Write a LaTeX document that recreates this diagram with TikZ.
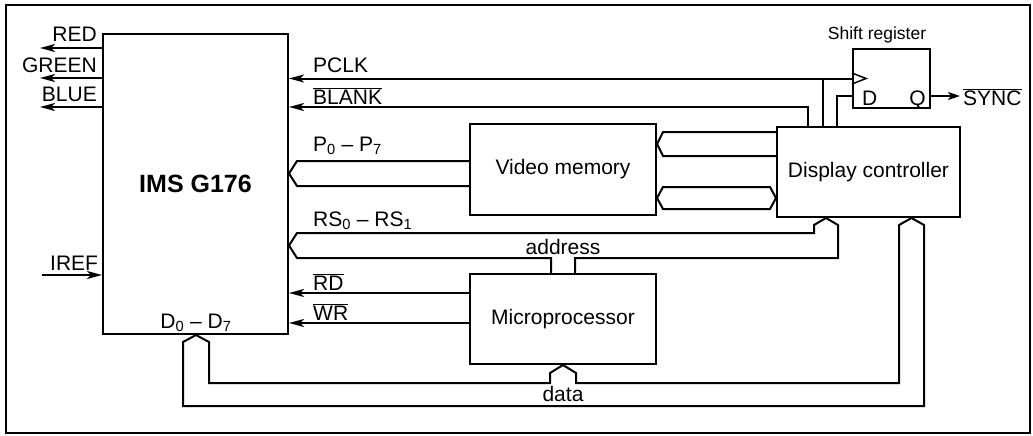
\documentclass[tikz,border=0pt]{standalone}
\usepackage{fontspec}
\setmainfont{Liberation Sans}
\usetikzlibrary{arrows.meta}
\newcommand\ovl[1]{$\overline{\mbox{#1}}$}
\begin{document}
\begin{tikzpicture}[x=1pt,y=-1pt,
  txt/.style={font=\fontsize{21}{25}\selectfont},
  box/.style={draw,line width=2pt,inner sep=0pt,txt},
  wire/.style={line width=2pt},
  arr/.style={wire,-{Stealth[length=15pt,width=8pt,inset=4pt]}},
  lbl/.style={inner sep=0pt,txt},
  bus/.style={wire,line join=miter}]
\useasboundingbox (0,0) rectangle (1033,436);
\draw[line width=1.3pt] (6,5) rectangle (1030,433);
% blocks
\node[box,minimum width=185pt,minimum height=300pt,font=\bfseries\fontsize{25}{30}\selectfont] (ims) at (195.5,184) {IMS G176};
\node[box,minimum width=186pt,minimum height=91pt] (vm) at (563,169.5) {Video memory};
\node[box,minimum width=183pt,minimum height=90pt] (dc) at (868.5,172) {Display controller};
\node[box,minimum width=186pt,minimum height=90pt] (mp) at (563,319) {Microprocessor};
\node[box,minimum width=77pt,minimum height=59pt] (sr) at (891.5,78.5) {};
\node[lbl,font=\fontsize{17.5}{20}\selectfont,anchor=base] (srl) at (877,40) {Shift register};
\node[lbl,anchor=base west] (dl) at (862,105) {D};
\node[lbl,anchor=base east] (ql) at (926,105) {Q};
\draw[line width=1.5pt] (sr.west |- 0,73) -- (866,78.5) -- (sr.west |- 0,84);
% labels
\node[lbl,anchor=base east] (red) at (97,42) {RED};
\node[lbl,anchor=base east] (green) at (97,72) {GREEN};
\node[lbl,anchor=base east] (blue) at (97,101) {BLUE};
\node[lbl,anchor=base west] (iref) at (50,270) {IREF};
\node[lbl,anchor=base west] (pclk) at (313,72) {PCLK};
\node[lbl,anchor=base west] (blank) at (313,104) {\ovl{BLANK}};
\node[lbl,anchor=base west] (pbus) at (313,151) {P\textsubscript{0} – P\textsubscript{7}};
\node[lbl,anchor=base west] (rsbus) at (313,226) {RS\textsubscript{0} – RS\textsubscript{1}};
\node[lbl,anchor=base west] (rd) at (313,290) {\ovl{RD}};
\node[lbl,anchor=base west] (wr) at (313,320) {\ovl{WR}};
\node[lbl,anchor=base] (dbus) at (196,328) {D\textsubscript{0} – D\textsubscript{7}};
\node[lbl,anchor=base] (addr) at (563,254) {address};
\node[lbl,anchor=base] (data) at (563,401) {data};
\node[lbl,anchor=base west] (sync) at (963,105) {\ovl{SYNC}};
% colour outputs and IREF
\draw[arr] (ims.west |- 0,48) -- (40,48) coordinate (redend);
\draw[arr] (ims.west |- 0,78) -- (40,78) coordinate (greenend);
\draw[arr] (ims.west |- 0,107) -- (40,107) coordinate (blueend);
\draw[arr] (42,275) coordinate (irefstart) -- (ims.west |- 0,275);
% control lines
\draw[arr] (sr.west |- 0,78.5) -- (ims.east |- 0,78.5);
\draw[wire] (dc.north -| 823,0) -- (823,78.5);
\draw[arr] (dc.north -| 808,0) -- (808,107) -- (ims.east |- 0,107);
\draw[wire] (dc.north -| 837,0) -- (837,96) -- (sr.west |- 0,96);
\draw[wire,-{Stealth[length=12pt,width=8pt,inset=3pt]}] (sr.east |- 0,96) -- (960,96) coordinate (qend);
\draw[arr] (mp.west |- 0,293) -- (ims.east |- 0,293);
\draw[arr] (mp.west |- 0,323) -- (ims.east |- 0,323);
% buses
\draw[bus] (vm.west |- 0,161) -- (297,161) -- (ims.east |- 0,173.5) -- (297,186) -- (vm.west |- 0,186);
\draw[bus] (dc.west |- 0,132) -- (663,132) -- (vm.east |- 0,144) -- (663,156) -- (dc.west |- 0,156);
\draw[bus] (663,187) -- (770,187) -- (dc.west |- 0,198) -- (770,209) -- (663,209) -- (vm.east |- 0,198) -- cycle;
\draw[bus] (mp.north -| 551,0) -- (551,258) -- (297,258) -- (ims.east |- 0,245.5) -- (297,233) -- (814,233) -- (814,225) -- (dc.south -| 826,0) -- (838,225) -- (838,258) -- (575,258) -- (mp.north -| 575,0);
\draw[bus] (209,342) -- (209,383) -- (550,383) -- (550,373) -- (mp.south) -- (576,373) -- (576,383) -- (899,383) -- (899,225) -- (dc.south -| 911.5,0) -- (924,225) -- (924,406) -- (183,406) -- (183,342) -- (ims.south -| 196,0) -- cycle;
\end{tikzpicture}
\end{document}
